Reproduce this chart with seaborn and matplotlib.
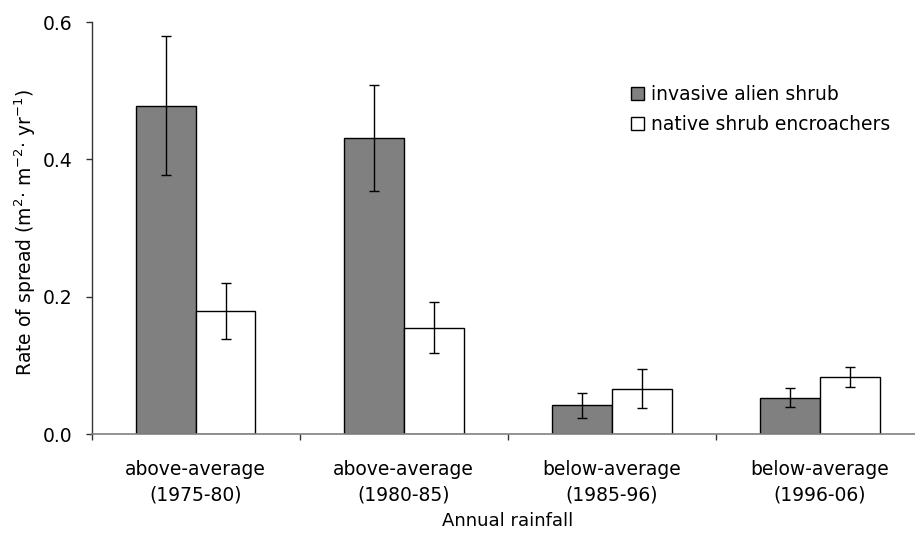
import matplotlib
matplotlib.use("Agg")
import matplotlib.pyplot as plt
import seaborn as sns
import numpy as np
import pandas as pd

# Data
periods = ["above-average\n(1975-80)", "above-average\n(1980-85)",
           "below-average\n(1985-96)", "below-average\n(1996-06)"]
groups = ["invasive alien shrub", "native shrub encroachers"]
invasive_rate = [0.478, 0.431, 0.042, 0.053]
invasive_err = [0.101, 0.077, 0.018, 0.014]
native_rate = [0.179, 0.155, 0.066, 0.083]
native_err = [0.041, 0.037, 0.028, 0.014]

df = pd.DataFrame({
    "period": periods * 2,
    "group": [groups[0]] * 4 + [groups[1]] * 4,
    "rate": invasive_rate + native_rate,
})
errors = {groups[0]: invasive_err, groups[1]: native_err}

sns.set_theme(style="ticks")
plt.rcParams["font.family"] = ["DejaVu Sans"]
plt.rcParams["mathtext.fontset"] = "dejavusans"
plt.rcParams["text.color"] = "black"
plt.rcParams["axes.labelcolor"] = "black"
plt.rcParams["xtick.labelcolor"] = "black"
plt.rcParams["ytick.labelcolor"] = "black"

fig = plt.figure(figsize=(9.15, 5.38), dpi=100)
ax = fig.add_axes([0.1, 0.1933, 0.9098, 0.7658])

sns.barplot(data=df, x="period", y="rate", hue="group",
            palette=["#808080", "white"], edgecolor="black", linewidth=1,
            width=0.576, errorbar=None, ax=ax)

# Error bars on top of each bar
for cont, g in zip(ax.containers, groups):
    xs = [b.get_x() + b.get_width() / 2 for b in cont]
    ys = [b.get_height() for b in cont]
    ax.errorbar(xs, ys, yerr=errors[g], fmt="none", ecolor="black",
                elinewidth=1, capsize=3.6, capthick=1)

ax.set_xlim(-0.5, 3.5)
ax.set_ylim(0, 0.6)
ax.set_yticks([0.0, 0.2, 0.4, 0.6])
ax.set_yticklabels(["0.0", "0.2", "0.4", "0.6"])
ax.tick_params(axis="y", labelsize=13.5, length=4.5, width=1, pad=9,
               color="#333333", labelcolor="black")
ax.tick_params(axis="x", which="major", labelsize=13.5, length=0, pad=18.5,
               labelcolor="black")
ax.set_xticks([-0.5, 0.5, 1.5, 2.5, 3.5], minor=True)
ax.tick_params(axis="x", which="minor", length=4.5, width=1, color="#333333")
for lab in ax.get_xticklabels():
    lab.set_linespacing(1.45)

sns.despine(ax=ax)
ax.spines["left"].set_color("#333333")
ax.spines["bottom"].set_color("#808080")
ax.spines["left"].set_linewidth(1)
ax.spines["bottom"].set_linewidth(1.2)

ax.set_xlabel("Annual rainfall", fontsize=13, color="black")
ax.xaxis.set_label_coords(0.5, -0.19)
ax.set_ylabel("Rate of spread (m$^{2}$· m$^{-2}$· yr$^{-1}$)", fontsize=13.5,
              color="black")
ax.yaxis.set_label_coords(-0.064, 0.49)

handles, labels = ax.get_legend_handles_labels()
leg = ax.legend(handles, labels, loc="upper left", bbox_to_anchor=(0.648, 0.846),
                frameon=False, fontsize=13.5, handlelength=0.7, handleheight=0.7,
                handletextpad=0.35, labelspacing=0.55, borderpad=0, borderaxespad=0)
for t in leg.get_texts():
    t.set_color("black")

fig.savefig("out.png", dpi=100)
